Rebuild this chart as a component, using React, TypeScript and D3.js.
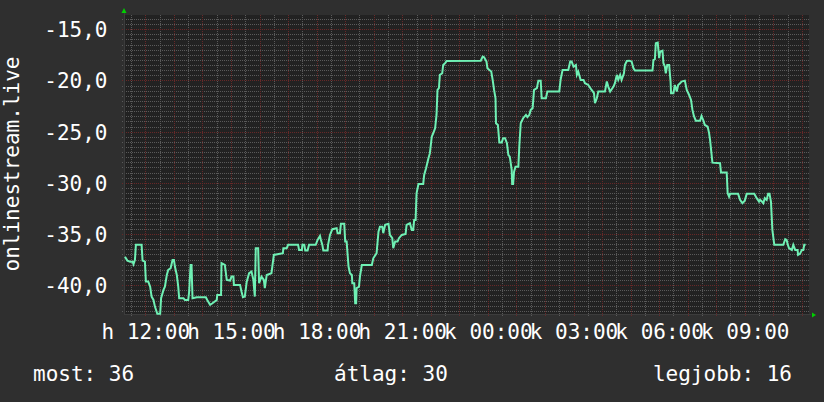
import React from "react";
import * as d3 from "d3";

// ---- data ----
const START = new Date(2024, 0, 1, 11, 14); // Monday (hétfő)
const END = new Date(2024, 0, 2, 11, 14);
const DAY_ABBR = ["v", "h", "k", "sze", "cs", "p", "szo"];

// minutes after START
const minutes = [
  2, 7, 13, 18, 20, 23, 25, 37, 39, 44, 46, 51, 55, 58, 62, 65, 70, 76, 78, 83,
  86, 90, 93, 98, 102, 105, 107, 111, 114, 116, 125, 128, 135, 137, 140, 142, 144, 153, 172, 175,
  181, 186, 195, 196, 204, 205, 212, 216, 223, 226, 230, 231, 244, 247, 250, 254, 258, 263, 268, 272,
  275, 277, 282, 284, 289, 294, 296, 300, 310, 315, 334, 335, 342, 345, 366, 368, 374, 375, 379, 381,
  386, 389, 403, 407, 412, 414, 417, 419, 428, 429, 433, 438, 447, 449, 454, 456, 463, 465, 468, 472,
  475, 479, 480, 484, 486, 488, 489, 494, 496, 500, 521, 524, 531, 535, 538, 543, 545, 549, 556, 559,
  564, 566, 570, 575, 578, 584, 592, 594, 601, 605, 608, 610, 613, 615, 619, 629, 631, 635, 640, 643,
  647, 650, 654, 657, 659, 662, 664, 669, 671, 676, 678, 750, 754, 757, 762, 764, 768, 772, 775, 778,
  781, 782, 786, 789, 794, 797, 801, 805, 808, 811, 815, 816, 818, 820, 823, 829, 831, 834, 839, 845,
  848, 852, 855, 859, 862, 868, 871, 876, 878, 887, 890, 915, 918, 922, 934, 938, 941, 945, 950, 952,
  955, 960, 966, 969, 976, 983, 988, 990, 994, 997, 1011, 1015, 1018, 1022, 1029, 1032, 1036, 1039, 1043, 1046,
  1051, 1053, 1057, 1062, 1067, 1071, 1074, 1111, 1113, 1116, 1118, 1122, 1125, 1127, 1132, 1134, 1137, 1139, 1142, 1146,
  1149, 1150, 1155, 1158, 1162, 1165, 1169, 1172, 1179, 1183, 1188, 1192, 1195, 1198, 1202, 1211, 1214, 1218, 1221, 1227,
  1230, 1232, 1237, 1253, 1255, 1267, 1269, 1272, 1274, 1291, 1295, 1300, 1305, 1309, 1325, 1330, 1335, 1337, 1341, 1344,
  1347, 1351, 1354, 1357, 1360, 1363, 1367, 1386, 1390, 1393, 1395, 1398, 1404, 1407, 1411, 1416, 1417, 1421, 1425, 1428,
  1430, 1433,
];

const values = [
  -37.21, -37.6, -37.7, -37.7, -37.95, -37.53, -36.06, -36.06, -37.6, -37.7, -39.65, -39.65, -40.14, -41.11, -41.44, -42.09, -42.8, -42.8, -41.27, -40.46,
  -40.14, -39.0, -38.51, -38.34, -37.53, -37.53, -38.18, -39.0, -40.14, -41.27, -41.27, -41.44, -41.44, -40.62, -38.02, -38.02, -41.27, -41.17, -41.17, -41.44,
  -41.92, -41.76, -41.44, -40.95, -40.95, -37.85, -38.02, -39.48, -39.55, -39.16, -39.16, -39.97, -39.97, -40.62, -41.17, -41.11, -39.65, -38.83, -38.67, -39.48,
  -41.11, -36.39, -36.39, -39.8, -39.16, -39.48, -40.29, -39.0, -38.83, -37.04, -36.88, -36.39, -36.39, -36.06, -36.06, -36.55, -36.55, -36.06, -36.06, -36.62,
  -36.62, -36.06, -36.06, -35.58, -35.19, -35.58, -36.06, -36.62, -36.62, -36.06, -35.09, -34.53, -34.43, -34.92, -34.92, -34.01, -34.01, -35.74, -35.74, -38.18,
  -38.83, -39.0, -39.8, -39.8, -41.76, -41.76, -40.29, -40.14, -39.16, -38.02, -38.02, -37.37, -36.88, -34.77, -34.28, -34.28, -34.92, -34.11, -34.01, -35.09,
  -35.41, -36.39, -35.74, -35.74, -35.41, -35.09, -34.99, -34.11, -33.95, -34.6, -34.6, -33.62, -33.62, -31.02, -30.11, -30.11, -29.23, -28.57, -27.6, -27.11,
  -25.49, -25.16, -24.67, -23.37, -20.93, -20.76, -19.46, -19.3, -18.49, -18.26, -18.1, -18.07, -17.68, -17.74, -18.16, -18.81, -18.97, -19.14, -19.95, -20.93,
  -21.74, -24.18, -24.35, -26.07, -26.07, -25.64, -25.64, -26.13, -27.28, -27.44, -28.74, -30.11, -30.11, -28.91, -28.42, -28.42, -26.46, -24.18, -23.69, -23.37,
  -23.59, -23.37, -22.88, -22.71, -20.93, -20.76, -20.02, -20.02, -21.74, -21.74, -21.09, -21.09, -19.88, -18.97, -18.97, -18.16, -18.16, -18.65, -18.49, -19.46,
  -19.14, -19.95, -19.95, -20.27, -20.44, -20.93, -21.25, -22.23, -21.74, -21.09, -21.09, -20.11, -20.6, -21.09, -20.6, -20.27, -19.46, -19.95, -19.46, -19.95,
  -19.3, -18.49, -18.1, -18.07, -18.16, -18.81, -19.04, -19.04, -18.0, -17.93, -16.37, -16.31, -17.83, -17.19, -17.09, -18.32, -18.65, -19.3, -18.49, -18.49,
  -20.11, -21.25, -21.25, -20.44, -21.09, -20.44, -20.27, -20.11, -20.02, -20.93, -21.42, -21.9, -22.88, -23.47, -23.93, -23.93, -23.47, -23.93, -24.35, -24.51,
  -25.16, -25.81, -28.03, -28.09, -29.0, -29.0, -31.02, -31.35, -31.08, -31.08, -31.67, -31.99, -31.74, -31.08, -31.08, -31.5, -31.83, -31.67, -31.83, -31.99,
  -31.5, -31.67, -31.08, -31.08, -31.83, -34.6, -36.06, -36.06, -35.51, -35.58, -35.97, -36.39, -36.55, -36.06, -36.55, -36.55, -37.04, -36.94, -36.55, -36.55,
  -36.06, -36.06,
];

const yTickValues = [-40, -35, -30, -25, -20, -15];
const yAxisTitle = "onlinestream.live";
const legendLabels = ["most", "átlag", "legjobb"];
const legendValues = [36, 30, 16];

// ---- layout / style ----
const W = 824;
const H = 402;
const PLOT = { left: 124, right: 809, top: 15, bottom: 315 };
const FONT = "'DejaVu Sans Mono', monospace";
const BG = "#2f2f2f";
const CANVAS = "#222222";
const GRID = "#5a5a5a";
const MGRID = "#682828";
const LINE = "#6ff0b4";
const ARROW = "#00d000";

// dotted 1px lines built from single-pixel squares
function hDots(rowY: number, x0: number, x1: number) {
  let s = "";
  for (let xx = x0; xx < x1; xx += 2) s += `M${xx},${rowY}h1v1h-1z`;
  return s;
}
function vDots(colX: number, y0: number, y1: number) {
  let s = "";
  for (let yy = y0; yy < y1; yy += 2) s += `M${colX},${yy}h1v1h-1z`;
  return s;
}

export default function App() {
  const x = d3.scaleTime().domain([START, END]).range([PLOT.left, PLOT.right]);
  const y = d3.scaleLinear().domain([-42.91, -13.61]).range([PLOT.bottom, PLOT.top]);

  const data = minutes.map((m, i) => ({
    t: new Date(START.getTime() + m * 60000),
    v: values[i],
  }));

  const line = d3
    .line<{ t: Date; v: number }>()
    .x((d) => x(d.t))
    .y((d) => y(d.v));

  const halfHours = d3.timeMinute.every(30)!.range(START, END);
  const minorV = halfHours.filter((d) => d.getMinutes() !== 0);
  const hours = d3.timeHour.range(START, END);
  const labelHours = hours.filter((d) => d.getHours() % 3 === 0);
  const fmtHM = d3.timeFormat("%H:%M");
  const fmtX = (d: Date) => `${DAY_ABBR[d.getDay()]} ${fmtHM(d)}`;

  const minorH = d3
    .range(-85, -27)
    .filter((k) => k % 10 !== 0)
    .map((k) => k / 2);
  const fmtY = (v: number) => d3.format(".1f")(v).replace(".", ",").replace("−", "-");

  const row = (v: number) => Math.round(y(v));
  const col = (d: Date) => Math.floor(x(d));

  const minorPath =
    minorH.map((v) => hDots(row(v), PLOT.left - 2, PLOT.right)).join("") +
    minorV.map((d) => vDots(col(d), PLOT.top, PLOT.bottom + 2)).join("");
  const majorPath =
    yTickValues.map((v) => hDots(row(v), PLOT.left - 2, PLOT.right)).join("") +
    hours.map((d) => vDots(col(d), PLOT.top, PLOT.bottom + 2)).join("");

  return (
    <svg
      width={W}
      height={H}
      style={{ position: "absolute", left: 0, top: 0, display: "block" }}
      xmlns="http://www.w3.org/2000/svg"
    >
      <rect x={0} y={0} width={W} height={H} fill={BG} />
      <rect
        x={PLOT.left}
        y={PLOT.top}
        width={PLOT.right - PLOT.left}
        height={PLOT.bottom - PLOT.top}
        fill={CANVAS}
      />

      {/* grid */}
      <path d={minorPath} fill={GRID} shapeRendering="crispEdges" />
      <path d={majorPath} fill={MGRID} shapeRendering="crispEdges" />

      {/* axes */}
      <g stroke="#3c3c3c" strokeWidth={1} shapeRendering="crispEdges">
        <line x1={PLOT.left + 0.5} x2={PLOT.left + 0.5} y1={PLOT.top - 3} y2={PLOT.bottom} />
        <line x1={PLOT.left} x2={PLOT.right + 2} y1={PLOT.bottom - 0.5} y2={PLOT.bottom - 0.5} />
      </g>
      <path
        d={`M${PLOT.left - 2.5},${PLOT.top - 2} L${PLOT.left + 2.5},${PLOT.top - 2} L${PLOT.left},${PLOT.top - 7} Z`}
        fill={ARROW}
      />
      <path
        d={`M${PLOT.right + 3},${PLOT.bottom - 2.5} L${PLOT.right + 3},${PLOT.bottom + 2.5} L${PLOT.right + 7},${PLOT.bottom} Z`}
        fill={ARROW}
      />

      {/* data line */}
      <path d={line(data) || ""} fill="none" stroke={LINE} strokeWidth={2} strokeLinejoin="miter" />

      {/* y labels */}
      <g fill="#ffffff" fontFamily={FONT} fontSize={21} textAnchor="end">
        {yTickValues.map((v) => (
          <text key={"yl" + v} x={107.5} y={y(v) + 8}>
            {fmtY(v)}
          </text>
        ))}
      </g>
      {/* x labels */}
      <g fill="#ffffff" fontFamily={FONT} fontSize={21} textAnchor="middle">
        {labelHours.map((d) => (
          <text key={"xl" + d.getTime()} x={x(d)} y={338.5}>
            {fmtX(d)}
          </text>
        ))}
      </g>
      {/* y title */}
      <text
        transform={`translate(18.5, ${(PLOT.top + PLOT.bottom) / 2 - 1}) rotate(-90)`}
        fill="#ffffff"
        fontFamily={FONT}
        fontSize={21}
        textAnchor="middle"
      >
        {yAxisTitle}
      </text>
      {/* legend */}
      <g fill="#ffffff" fontFamily={FONT} fontSize={21}>
        <text x={33} y={381}>{`${legendLabels[0]}: ${legendValues[0]}`}</text>
        <text x={334} y={381}>{`${legendLabels[1]}: ${legendValues[1]}`}</text>
        <text x={792} y={381} textAnchor="end">{`${legendLabels[2]}: ${legendValues[2]}`}</text>
      </g>
    </svg>
  );
}
